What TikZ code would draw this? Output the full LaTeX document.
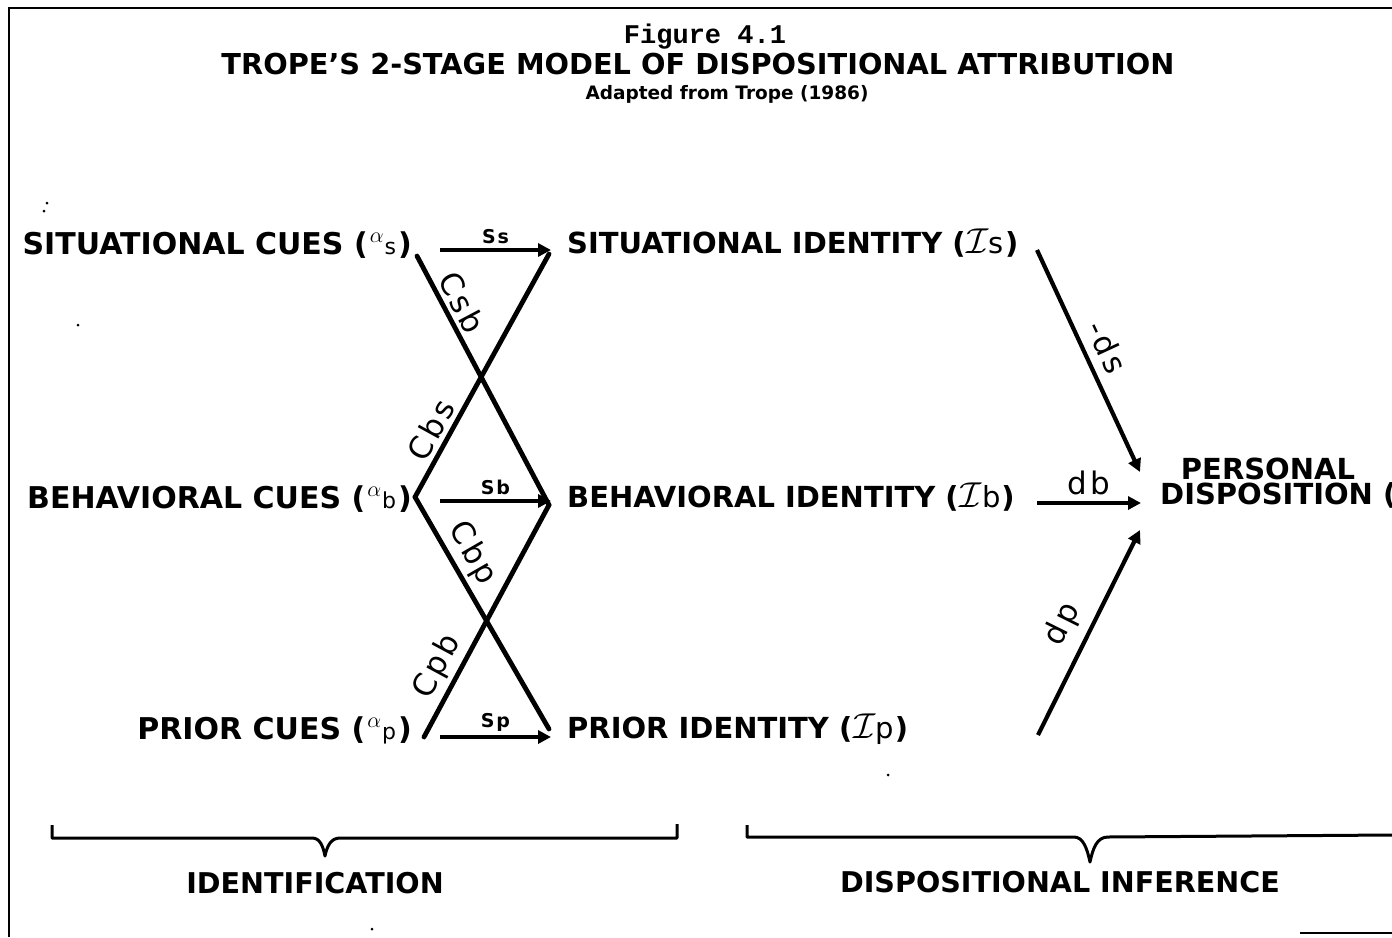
\RequirePackage{fix-cm}
\documentclass[tikz,border=0pt]{standalone}
\usepackage{fontspec}
\setmainfont{DejaVu Sans}
\newfontfamily\monofont{Liberation Mono}
\newfontfamily\handfont[LetterSpace=10]{DejaVu Sans}
\usetikzlibrary{arrows.meta}
\newcommand\cuesym[2]{\kern2pt\raisebox{0.40em}{\fontsize{22}{22}\selectfont$#1$}\kern1pt{\handfont\mdseries\fontsize{22}{22}\selectfont #2}\kern2pt}
\newcommand\idsym[1]{\kern1pt{\fontsize{36}{36}\selectfont$\mathcal{I}$}{\handfont\mdseries\fontsize{29}{29}\selectfont #1}\kern1pt}
\tikzset{
  lbl/.style={font=\bfseries\fontsize{29}{29}\selectfont, inner sep=0pt},
  cuelbl/.style={font=\bfseries\fontsize{30}{30}\selectfont, inner sep=0pt},
  head/.style={font=\bfseries\fontsize{28.6}{29}\selectfont, inner sep=0pt},
  hand/.style={font=\handfont\fontsize{31}{31}\selectfont, inner sep=0pt},
  smallhand/.style={font=\handfont\bfseries\fontsize{19}{19}\selectfont, inner sep=0pt},
  link/.style={line width=4.8pt},
  arr/.style={line width=4.2pt, -{Triangle[length=13pt,width=13pt]}},
  brace/.style={line width=3pt, line join=round},
  frame/.style={line width=2.5pt},
  speck/.style={fill=black, draw=none},
}
\begin{document}
\begin{tikzpicture}[x=1pt,y=-1pt]
\useasboundingbox (0,0) rectangle (1392,937);
% frame
\draw[frame] (9,937) -- (9,8) -- (1392,8);
\draw[line width=1.5pt] (1300,933) -- (1392,933);
% titles
\node[font=\monofont\bfseries\fontsize{27}{27}\selectfont, anchor=base, inner sep=0pt] (fig) at (705,43) {Figure 4.1};
\node[font=\bfseries\fontsize{28.8}{29}\selectfont, anchor=base, inner sep=0pt] (title) at (698,74) {TROPE'S 2-STAGE MODEL OF DISPOSITIONAL ATTRIBUTION};
\node[font=\bfseries\fontsize{18.5}{19}\selectfont, anchor=base, inner sep=0pt] (sub) at (727,99) {Adapted from Trope (1986)};
% cue nodes
\node[cuelbl, anchor=base east] (sc) at (412,254) {SITUATIONAL CUES (\cuesym{\alpha}{s})};
\node[cuelbl, anchor=base east] (bc) at (412,508) {BEHAVIORAL CUES (\cuesym{\alpha}{b})};
\node[cuelbl, anchor=base east] (pc) at (412,739) {PRIOR CUES (\cuesym{\alpha}{p})};
% identity nodes
\node[lbl, anchor=base west] (si) at (567,253) {SITUATIONAL IDENTITY (\idsym{s})};
\node[lbl, anchor=base west] (bi) at (567,507) {BEHAVIORAL IDENTITY (\idsym{b})};
\node[lbl, anchor=base west] (pi) at (567,738) {PRIOR IDENTITY (\idsym{p})};
% personal disposition
\node[lbl, anchor=base] (pd1) at (1268,479) {PERSONAL};
\node[lbl, anchor=base west] (pd2) at (1160,504) {DISPOSITION (};
% connector ends
\coordinate (sc-o) at (440,250);  \coordinate (si-i) at (551,250);
\coordinate (sc-d) at (417,256);
\coordinate (bc-o) at (440,501);  \coordinate (bi-i) at (551,501);
\coordinate (bc-d) at (415,497);
\coordinate (pc-o) at (440,737);  \coordinate (pi-i) at (551,737);
\coordinate (pc-d) at (424,737);
\coordinate (si-d) at (549,254);
\coordinate (bi-d) at (549,505);
\coordinate (pi-d) at (549,729);
\coordinate (si-o) at (1037,250);
\coordinate (bi-o) at (1037,503);
\coordinate (pi-o) at (1038,735);
\coordinate (pd-a) at (1140,472);
\coordinate (pd-b) at (1141,503);
\coordinate (pd-c) at (1140,530);
% identification arrows
\draw[arr] (sc-o) -- node[smallhand, above=4pt] {Ss} (si-i);
\draw[arr] (bc-o) -- node[smallhand, above=4pt] {Sb} (bi-i);
\draw[arr] (pc-o) -- node[smallhand, above=3pt] {Sp} (pi-i);
\draw[link, line cap=round] (sc-d) -- node[hand, sloped, above=4pt, pos=.22] {Csb} (bi-d);
\draw[link, line cap=round] (bc-d) -- node[hand, sloped, above=4pt, pos=.24] {Cbs} (si-d);
\draw[link, line cap=round] (bc-d) -- node[hand, sloped, above=4pt, pos=.29] {Cbp} (pi-d);
\draw[link, line cap=round] (pc-d) -- node[hand, sloped, above=4pt, pos=.26] {Cpb} (bi-d);
% dispositional inference arrows
\draw[arr] (si-o) -- node[hand, sloped, above=9pt, pos=.48] {-ds} (pd-a);
\draw[arr] (bi-o) -- node[hand, above=6pt] {db} (pd-b);
\draw[arr] (pi-o) -- node[hand, sloped, above=10pt, pos=.48] {dp} (pd-c);
% braces
\draw[brace] (52,825) -- (52,838) -- (312,838) .. controls (320,838) and (323,846) .. (325,856) .. controls (327,846) and (331,838) .. (340,838) -- (677,838) -- (677,824);
\draw[brace] (747,825) -- (747,837) -- (1074,837) .. controls (1083,837) and (1087,848) .. (1090,862) .. controls (1093,848) and (1097,837) .. (1108,837) -- (1392,835);
\node[head, anchor=base] (idl) at (315,893) {IDENTIFICATION};
\node[head, anchor=base] (dil) at (1060,892) {DISPOSITIONAL INFERENCE};
% specks
\fill[speck] (47,203) circle (1.5pt);
\fill[speck] (44,211) circle (1.5pt);
\fill[speck] (78,325) circle (1.5pt);
\fill[speck] (888,775) circle (1.5pt);
\fill[speck] (372,929) circle (1.5pt);
\end{tikzpicture}
\end{document}
